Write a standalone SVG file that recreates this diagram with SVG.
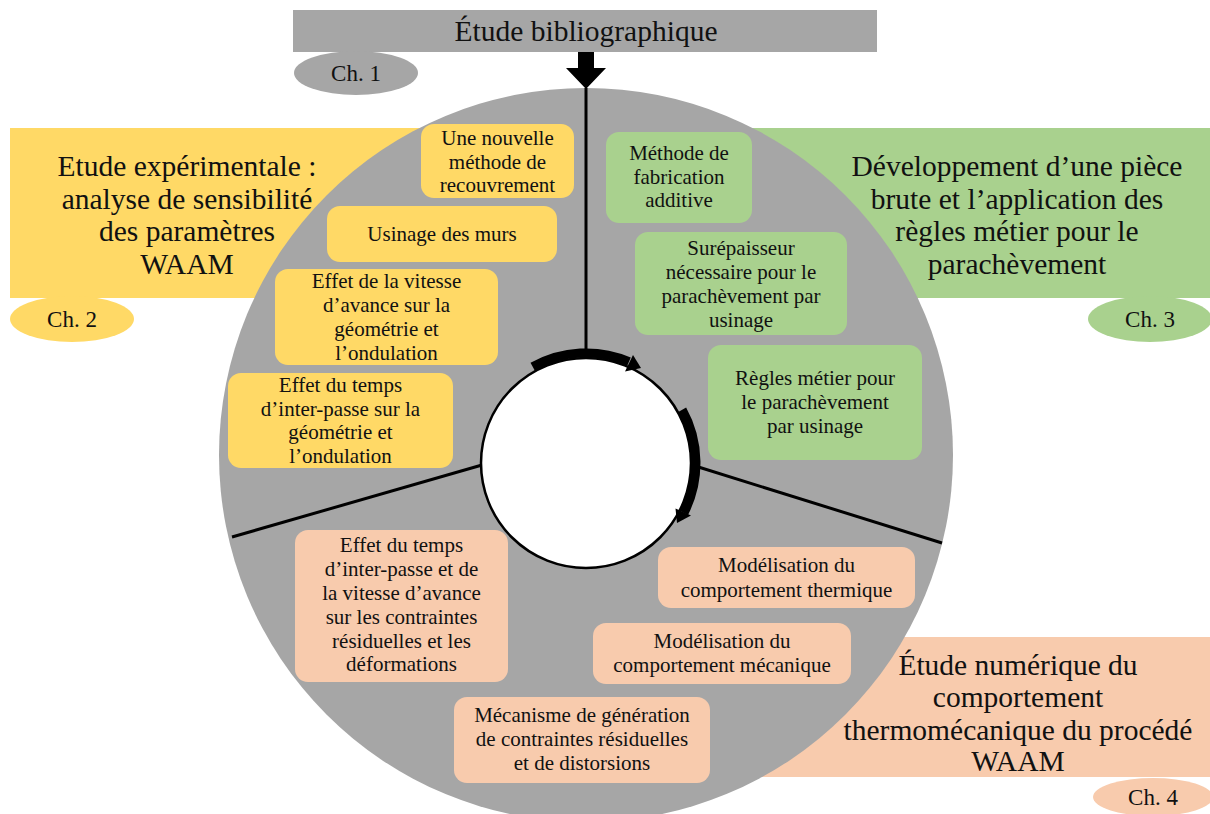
<svg xmlns="http://www.w3.org/2000/svg" width="1210" height="814" viewBox="0 0 1210 814" font-family="Liberation Serif, DejaVu Serif, serif">
<style>
text{font-family:'Liberation Serif','DejaVu Serif',serif;fill:#111;text-anchor:middle}
.big{font-size:29.5px}
.box{font-size:21px}
.ch{font-size:23px}
.y{fill:#FFD966}
.g{fill:#A9D18E}
.s{fill:#F8CBAD}
.gr{fill:#A6A6A6}
.ln{stroke:#000;stroke-width:3;fill:none}
.arc{stroke:#000;stroke-width:9;fill:none}
</style>
<rect width="1210" height="814" fill="#fff"/>
<g id="banner-ch2">
<rect class="y" x="10" y="128" width="480" height="170"/>
<text class="big" x="187" y="176">Etude expérimentale :</text>
<text class="big" x="187" y="208.5">analyse de sensibilité</text>
<text class="big" x="187" y="241">des paramètres</text>
<text class="big" x="187" y="273.5">WAAM</text>
<ellipse class="y" cx="72" cy="319" rx="62" ry="23"/>
<text class="ch" x="72" y="327">Ch. 2</text>
</g>
<g id="banner-ch3">
<rect class="g" x="700" y="128" width="510" height="170"/>
<text class="big" x="1017" y="176">Développement d’une pièce</text>
<text class="big" x="1017" y="208.5">brute et l’application des</text>
<text class="big" x="1017" y="241">règles métier pour le</text>
<text class="big" x="1017" y="273.5">parachèvement</text>
<ellipse class="g" cx="1150" cy="319" rx="62" ry="23"/>
<text class="ch" x="1150" y="327">Ch. 3</text>
</g>
<g id="banner-ch4">
<rect class="s" x="752" y="637" width="458" height="140"/>
<text class="big" x="1018" y="675">Étude numérique du</text>
<text class="big" x="1018" y="707">comportement</text>
<text class="big" x="1018" y="739.5">thermomécanique du procédé</text>
<text class="big" x="1018" y="771">WAAM</text>
<ellipse class="s" cx="1153" cy="797" rx="60" ry="19"/>
<text class="ch" x="1153" y="805">Ch. 4</text>
</g>
<g id="banner-ch1">
<rect class="gr" x="293" y="10" width="584" height="42"/>
<text x="586" y="40.5" style="font-size:29.5px">Étude bibliographique</text>
<ellipse class="gr" cx="356" cy="73" rx="62" ry="22"/>
<text class="ch" x="356" y="81">Ch. 1</text>
</g>
<g id="wheel">
<circle class="gr" cx="586" cy="455" r="367"/>
</g>
<g id="connectors">
<line class="ln" x1="586" y1="88" x2="586" y2="358"/>
<line class="ln" x1="232" y1="537" x2="482" y2="465"/>
<line class="ln" x1="692" y1="465" x2="942" y2="543"/>
<polygon points="578,52 594,52 594,68 606,68 586,89 566,68 578,68" fill="#000"/>
</g>
<g id="center">
<circle cx="586" cy="463" r="105" fill="#fff" stroke="#000" stroke-width="2.5"/>
</g>
<g id="cycle-arrows">
<path class="arc" d="M532.7,366.8 A110,110 0 0 1 629,361.6"/>
<polygon points="641,368 625,371.5 633,355" fill="#000"/>
<path class="arc" d="M682.2,409.7 A110,110 0 0 1 684,512.9"/>
<polygon points="677,523 675.5,508.5 691,515.5" fill="#000"/>
</g>
<g id="y1"><rect class="y" x="421" y="124" width="153" height="74" rx="13"/>
<text class="box" x="497.5" y="145">Une nouvelle</text><text class="box" x="497.5" y="169">méthode de</text><text class="box" x="497.5" y="192">recouvrement</text></g>
<g id="y2"><rect class="y" x="327" y="206" width="230" height="56" rx="13"/>
<text class="box" x="442" y="241">Usinage des murs</text></g>
<g id="y3"><rect class="y" x="275" y="269" width="223" height="96" rx="13"/>
<text class="box" x="386.5" y="288">Effet de la vitesse</text><text class="box" x="386.5" y="312">d’avance sur la</text><text class="box" x="386.5" y="336">géométrie et</text><text class="box" x="386.5" y="360">l’ondulation</text></g>
<g id="y4"><rect class="y" x="228" y="373" width="225" height="95" rx="13"/>
<text class="box" x="340.5" y="392">Effet du temps</text><text class="box" x="340.5" y="415.5">d’inter-passe sur la</text><text class="box" x="340.5" y="439">géométrie et</text><text class="box" x="340.5" y="462.5">l’ondulation</text></g>
<g id="g1"><rect class="g" x="606" y="132" width="146" height="91" rx="13"/>
<text class="box" x="679" y="160">Méthode de</text><text class="box" x="679" y="183.5">fabrication</text><text class="box" x="679" y="207">additive</text></g>
<g id="g2"><rect class="g" x="635" y="232" width="212" height="103" rx="13"/>
<text class="box" x="741" y="255">Surépaisseur</text><text class="box" x="741" y="279">nécessaire pour le</text><text class="box" x="741" y="303">parachèvement par</text><text class="box" x="741" y="327">usinage</text></g>
<g id="g3"><rect class="g" x="708" y="345" width="214" height="115" rx="13"/>
<text class="box" x="815" y="385">Règles métier pour</text><text class="box" x="815" y="409">le parachèvement</text><text class="box" x="815" y="433">par usinage</text></g>
<g id="s1"><rect class="s" x="295" y="530" width="213" height="152" rx="13"/>
<text class="box" x="401.5" y="552">Effet du temps</text><text class="box" x="401.5" y="576">d’inter-passe et de</text><text class="box" x="401.5" y="600">la vitesse d’avance</text><text class="box" x="401.5" y="623.5">sur les contraintes</text><text class="box" x="401.5" y="647.5">résiduelles et les</text><text class="box" x="401.5" y="671">déformations</text></g>
<g id="s2"><rect class="s" x="658" y="547" width="257" height="61" rx="13"/>
<text class="box" x="786.5" y="572">Modélisation du</text><text class="box" x="786.5" y="597">comportement thermique</text></g>
<g id="s3"><rect class="s" x="593" y="623" width="258" height="61" rx="13"/>
<text class="box" x="722" y="648">Modélisation du</text><text class="box" x="722" y="672">comportement mécanique</text></g>
<g id="s4"><rect class="s" x="454" y="697" width="256" height="86" rx="13"/>
<text class="box" x="582" y="722">Mécanisme de génération</text><text class="box" x="582" y="746">de contraintes résiduelles</text><text class="box" x="582" y="770">et de distorsions</text></g>
</svg>
